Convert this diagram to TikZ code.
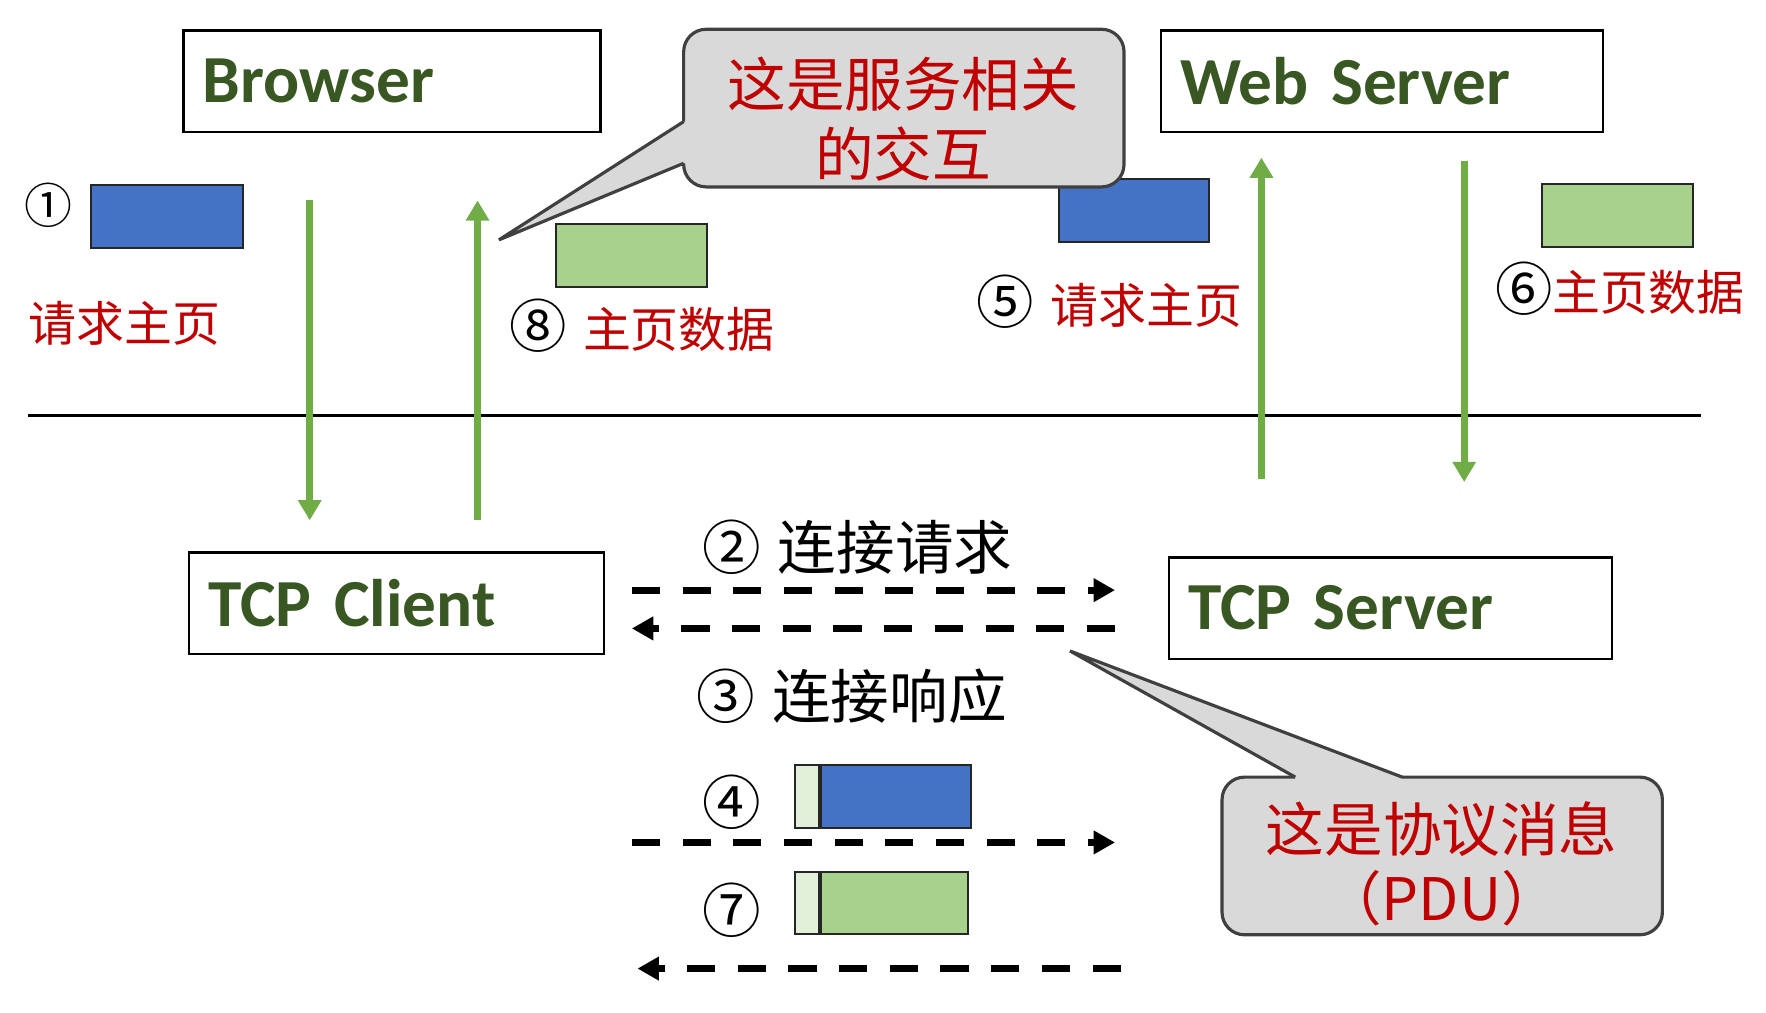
\documentclass[tikz,border=0pt]{standalone}
\usepackage{fontspec}
\usepackage{xcolor}
\usetikzlibrary{positioning,arrows.meta}
\newfontfamily\cjk{Noto Sans CJK SC}
\newfontfamily\boxfont{Carlito}
\newcommand{\bigzh}{\cjk\fontsize{14.8}{17.6}\selectfont}
\newcommand{\smallzh}{\cjk\fontsize{12.1}{14.5}\selectfont}
\newcommand{\stepno}[1]{{\fontsize{14.5}{14.5}\selectfont #1}}
\definecolor{hostgreen}{HTML}{385723}
\definecolor{msgred}{HTML}{C00000}
\definecolor{reqblue}{HTML}{4472C4}
\definecolor{datagreen}{HTML}{A9D18E}
\definecolor{hdrgreen}{HTML}{E2F0D9}
\definecolor{arrowgreen}{HTML}{70AD47}
\definecolor{calloutgray}{HTML}{D9D9D9}
\definecolor{calloutline}{HTML}{404040}

\tikzset{
  hostbox/.style={draw, line width=0.6pt, minimum height=0.9cm, inner xsep=0.17cm,
    align=left, text=hostgreen, font=\boxfont\bfseries\fontsize{17}{20}\selectfont},
  msgbox/.style={draw=black!85, line width=0.5pt, minimum height=0.56cm, inner sep=0},
  label/.style={inner sep=0, anchor=west},
  flow/.style={arrowgreen, line width=1.7pt, -{Triangle[length=0.18cm,width=0.2cm]}},
  tcp/.style={line width=1.7pt, dash pattern=on 0.25cm off 0.2cm,
    -{Triangle[length=0.19cm,width=0.2cm]}},
  balloon/.style={fill=calloutgray},
  balloonline/.style={draw=calloutline, line width=0.8pt}
}

\begin{document}
\begin{tikzpicture}
  \useasboundingbox (0,0) rectangle (15.68,8.99);

  % hosts
  \node[hostbox, text width=3.36cm] (browser) at (3.48,8.27) {Browser};
  \node[hostbox, text width=3.58cm] (websrv) at (12.27,8.27) {Web Server};
  \node[hostbox, text width=3.34cm] (tcpcli) at (3.52,3.635) {TCP Client};
  \node[hostbox, text width=3.59cm] (tcpsrv) at (12.345,3.59) {TCP Server};

  \draw[line width=0.6pt] (0.25,5.30) -- (15.10,5.30);

  % service messages
  \node[msgbox, fill=reqblue, minimum width=1.35cm] (req1) at (1.485,7.07) {};
  \node[msgbox, fill=datagreen, minimum width=1.34cm] (data8) at (5.61,6.725) {};
  \node[msgbox, fill=reqblue, minimum width=1.33cm] (req5) at (10.065,7.12) {};
  \node[msgbox, fill=datagreen, minimum width=1.34cm] (data6) at (14.36,7.075) {};

  \node[inner sep=0, font=\smallzh] (n1) at (0.43,7.17) {①};
  \node[label, font=\smallzh, text=msgred] (t1) at (0.25,6.12) {请求主页};
  \node[label, font=\smallzh] (t8) at (4.52,6.10) {\stepno{⑧}\hspace{0.14cm}\textcolor{msgred}{主页数据}};
  \node[label, font=\smallzh] (t5) at (8.66,6.31) {\stepno{⑤}\hspace{0.15cm}\textcolor{msgred}{请求主页}};
  \node[label, font=\smallzh] (t6) at (13.27,6.43) {\stepno{⑥}\textcolor{msgred}{主页数据}};

  % browser <-> tcp client, web server <-> tcp server
  \coordinate (cdown1) at (2.75,7.21);
  \coordinate (cdown2) at (2.75,4.37);
  \coordinate (cup1) at (4.24,4.37);
  \coordinate (cup2) at (4.24,7.21);
  \coordinate (sup1) at (11.20,4.74);
  \coordinate (sup2) at (11.20,7.59);
  \coordinate (sdown1) at (13.00,7.56);
  \coordinate (sdown2) at (13.00,4.71);
  \draw[flow] (cdown1) -- (cdown2);
  \draw[flow] (cup1) -- (cup2);
  \draw[flow] (sup1) -- (sup2);
  \draw[flow] (sdown1) -- (sdown2);

  % callout: service interaction
  \node[balloon, rounded corners=0.2cm, minimum width=3.91cm, minimum height=1.40cm] (svcbox) at (8.025,8.03) {};
  \fill[balloon] (6.12,7.91) -- (6.07,7.91) -- (4.43,6.86) -- (6.07,7.54) -- (6.12,7.54) -- cycle;
  \draw[balloonline, rounded corners=0.2cm] (6.07,7.54) -- (6.07,7.33) -- (9.98,7.33) -- (9.98,8.73) -- (6.07,8.73) -- (6.07,7.91);
  \draw[balloonline] (6.07,7.91) -- (4.43,6.86) -- (6.07,7.54);
  \node[font=\bigzh, text=msgred, align=center] (svctext) at (8.02,7.93) {这是服务相关\\的交互};

  % tcp connection
  \node[label, font=\bigzh] (t2) at (6.23,4.13) {②\hspace{0.15cm}连接请求};
  \node[label, font=\bigzh] (t3) at (6.18,2.81) {③\hspace{0.15cm}连接响应};
  \coordinate (synl) at (5.61,3.75);
  \coordinate (synr) at (9.90,3.75);
  \coordinate (ackr) at (9.90,3.41);
  \coordinate (ackl) at (5.61,3.41);
  \draw[tcp] (synl) -- (synr);
  \draw[tcp] (ackr) -- (ackl);

  % pdus
  \node[inner sep=0, font=\bigzh] (n4) at (6.50,1.87) {④};
  \node[msgbox, fill=hdrgreen, minimum width=0.21cm] (hdr4) at (7.165,1.92) {};
  \node[msgbox, fill=reqblue, minimum width=1.33cm, right=0pt of hdr4] (body4) {};
  \node[inner sep=0, font=\bigzh] (n7) at (6.50,0.91) {⑦};
  \node[msgbox, fill=hdrgreen, minimum width=0.21cm, minimum height=0.55cm] (hdr7) at (7.165,0.975) {};
  \node[msgbox, fill=datagreen, minimum width=1.31cm, minimum height=0.55cm, right=0pt of hdr7] (body7) {};
  \coordinate (pdul) at (5.61,1.51);
  \coordinate (pdur) at (9.90,1.51);
  \coordinate (datar) at (9.95,0.39);
  \coordinate (datal) at (5.66,0.39);
  \draw[tcp] (pdul) -- (pdur);
  \draw[tcp] (datar) -- (datal);

  % callout: protocol message
  \node[balloon, rounded corners=0.2cm, minimum width=3.91cm, minimum height=1.40cm] (pdubox) at (12.805,1.39) {};
  \fill[balloon] (11.50,2.00) -- (11.50,2.09) -- (9.50,3.21) -- (12.45,2.09) -- (12.45,2.00) -- cycle;
  \draw[balloonline, rounded corners=0.2cm] (12.45,2.09) -- (14.76,2.09) -- (14.76,0.69) -- (10.85,0.69) -- (10.85,2.09) -- (11.50,2.09);
  \draw[balloonline] (11.50,2.09) -- (9.50,3.21) -- (12.45,2.09);
  \node[font=\bigzh, text=msgred, align=center] (pdutext) at (12.80,1.32) {这是协议消息\\（PDU）};
\end{tikzpicture}
\end{document}
